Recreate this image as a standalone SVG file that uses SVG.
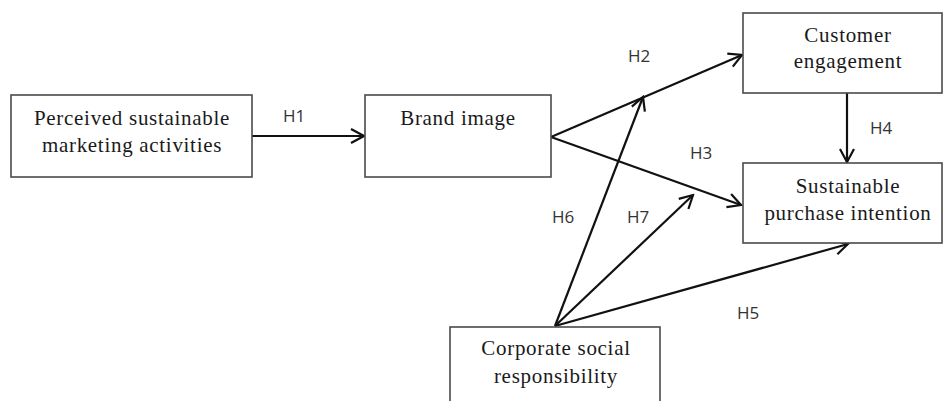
<svg xmlns="http://www.w3.org/2000/svg" width="944" height="401" viewBox="0 0 944 401">
<style>
.box{fill:#fff;stroke:#4a4a4a;stroke-width:1.6}
.t{font-family:"Liberation Serif","Times New Roman",serif;font-size:21px;fill:#1a1a1a;text-anchor:middle;letter-spacing:0.7px}
.h{font-family:"Open Sans","Liberation Sans",Arial,sans-serif;font-size:17px;fill:#333}
.c{stroke:#111;stroke-width:2.2;fill:none;marker-end:url(#arr)}
</style>
<defs>
<marker id="arr" markerUnits="userSpaceOnUse" markerWidth="16" markerHeight="18" refX="14" refY="8" orient="auto" viewBox="0 0 16 16">
<path d="M1,1 L14,8 L1,15" fill="none" stroke="#111" stroke-width="2.2"/>
</marker>
</defs>
<rect width="944" height="401" fill="#fff"/>
<g id="connectors">
<line class="c" x1="252" y1="136" x2="364" y2="136"/>
<line class="c" x1="551" y1="137" x2="742" y2="55"/>
<line class="c" x1="551" y1="137" x2="741" y2="205"/>
<line class="c" x1="847" y1="93" x2="847" y2="162"/>
<line class="c" x1="555" y1="326" x2="643" y2="97"/>
<line class="c" x1="555" y1="326" x2="693" y2="195"/>
<line class="c" x1="555" y1="326" x2="848" y2="244"/>
</g>
<g id="labels">
<text class="h" x="283" y="122">H1</text>
<text class="h" x="628" y="62">H2</text>
<text class="h" x="690" y="159">H3</text>
<text class="h" x="870" y="134">H4</text>
<text class="h" x="737" y="319">H5</text>
<text class="h" x="552" y="223">H6</text>
<text class="h" x="627" y="223">H7</text>
</g>
<g id="psma">
<rect class="box" x="11" y="95" width="241" height="82"/>
<text class="t" x="132" y="125">Perceived sustainable</text>
<text class="t" x="132" y="152">marketing activities</text>
</g>
<g id="brand">
<rect class="box" x="365" y="95" width="186" height="82"/>
<text class="t" x="458" y="125">Brand image</text>
</g>
<g id="engagement">
<rect class="box" x="743" y="13" width="199" height="80"/>
<text class="t" x="848" y="42">Customer</text>
<text class="t" x="848" y="68">engagement</text>
</g>
<g id="intention">
<rect class="box" x="743" y="163" width="199" height="80"/>
<text class="t" x="848" y="193">Sustainable</text>
<text class="t" x="848" y="220">purchase intention</text>
</g>
<g id="csr">
<rect class="box" x="450" y="327" width="210" height="80"/>
<text class="t" x="556" y="355">Corporate social</text>
<text class="t" x="556" y="383">responsibility</text>
</g>
</svg>
